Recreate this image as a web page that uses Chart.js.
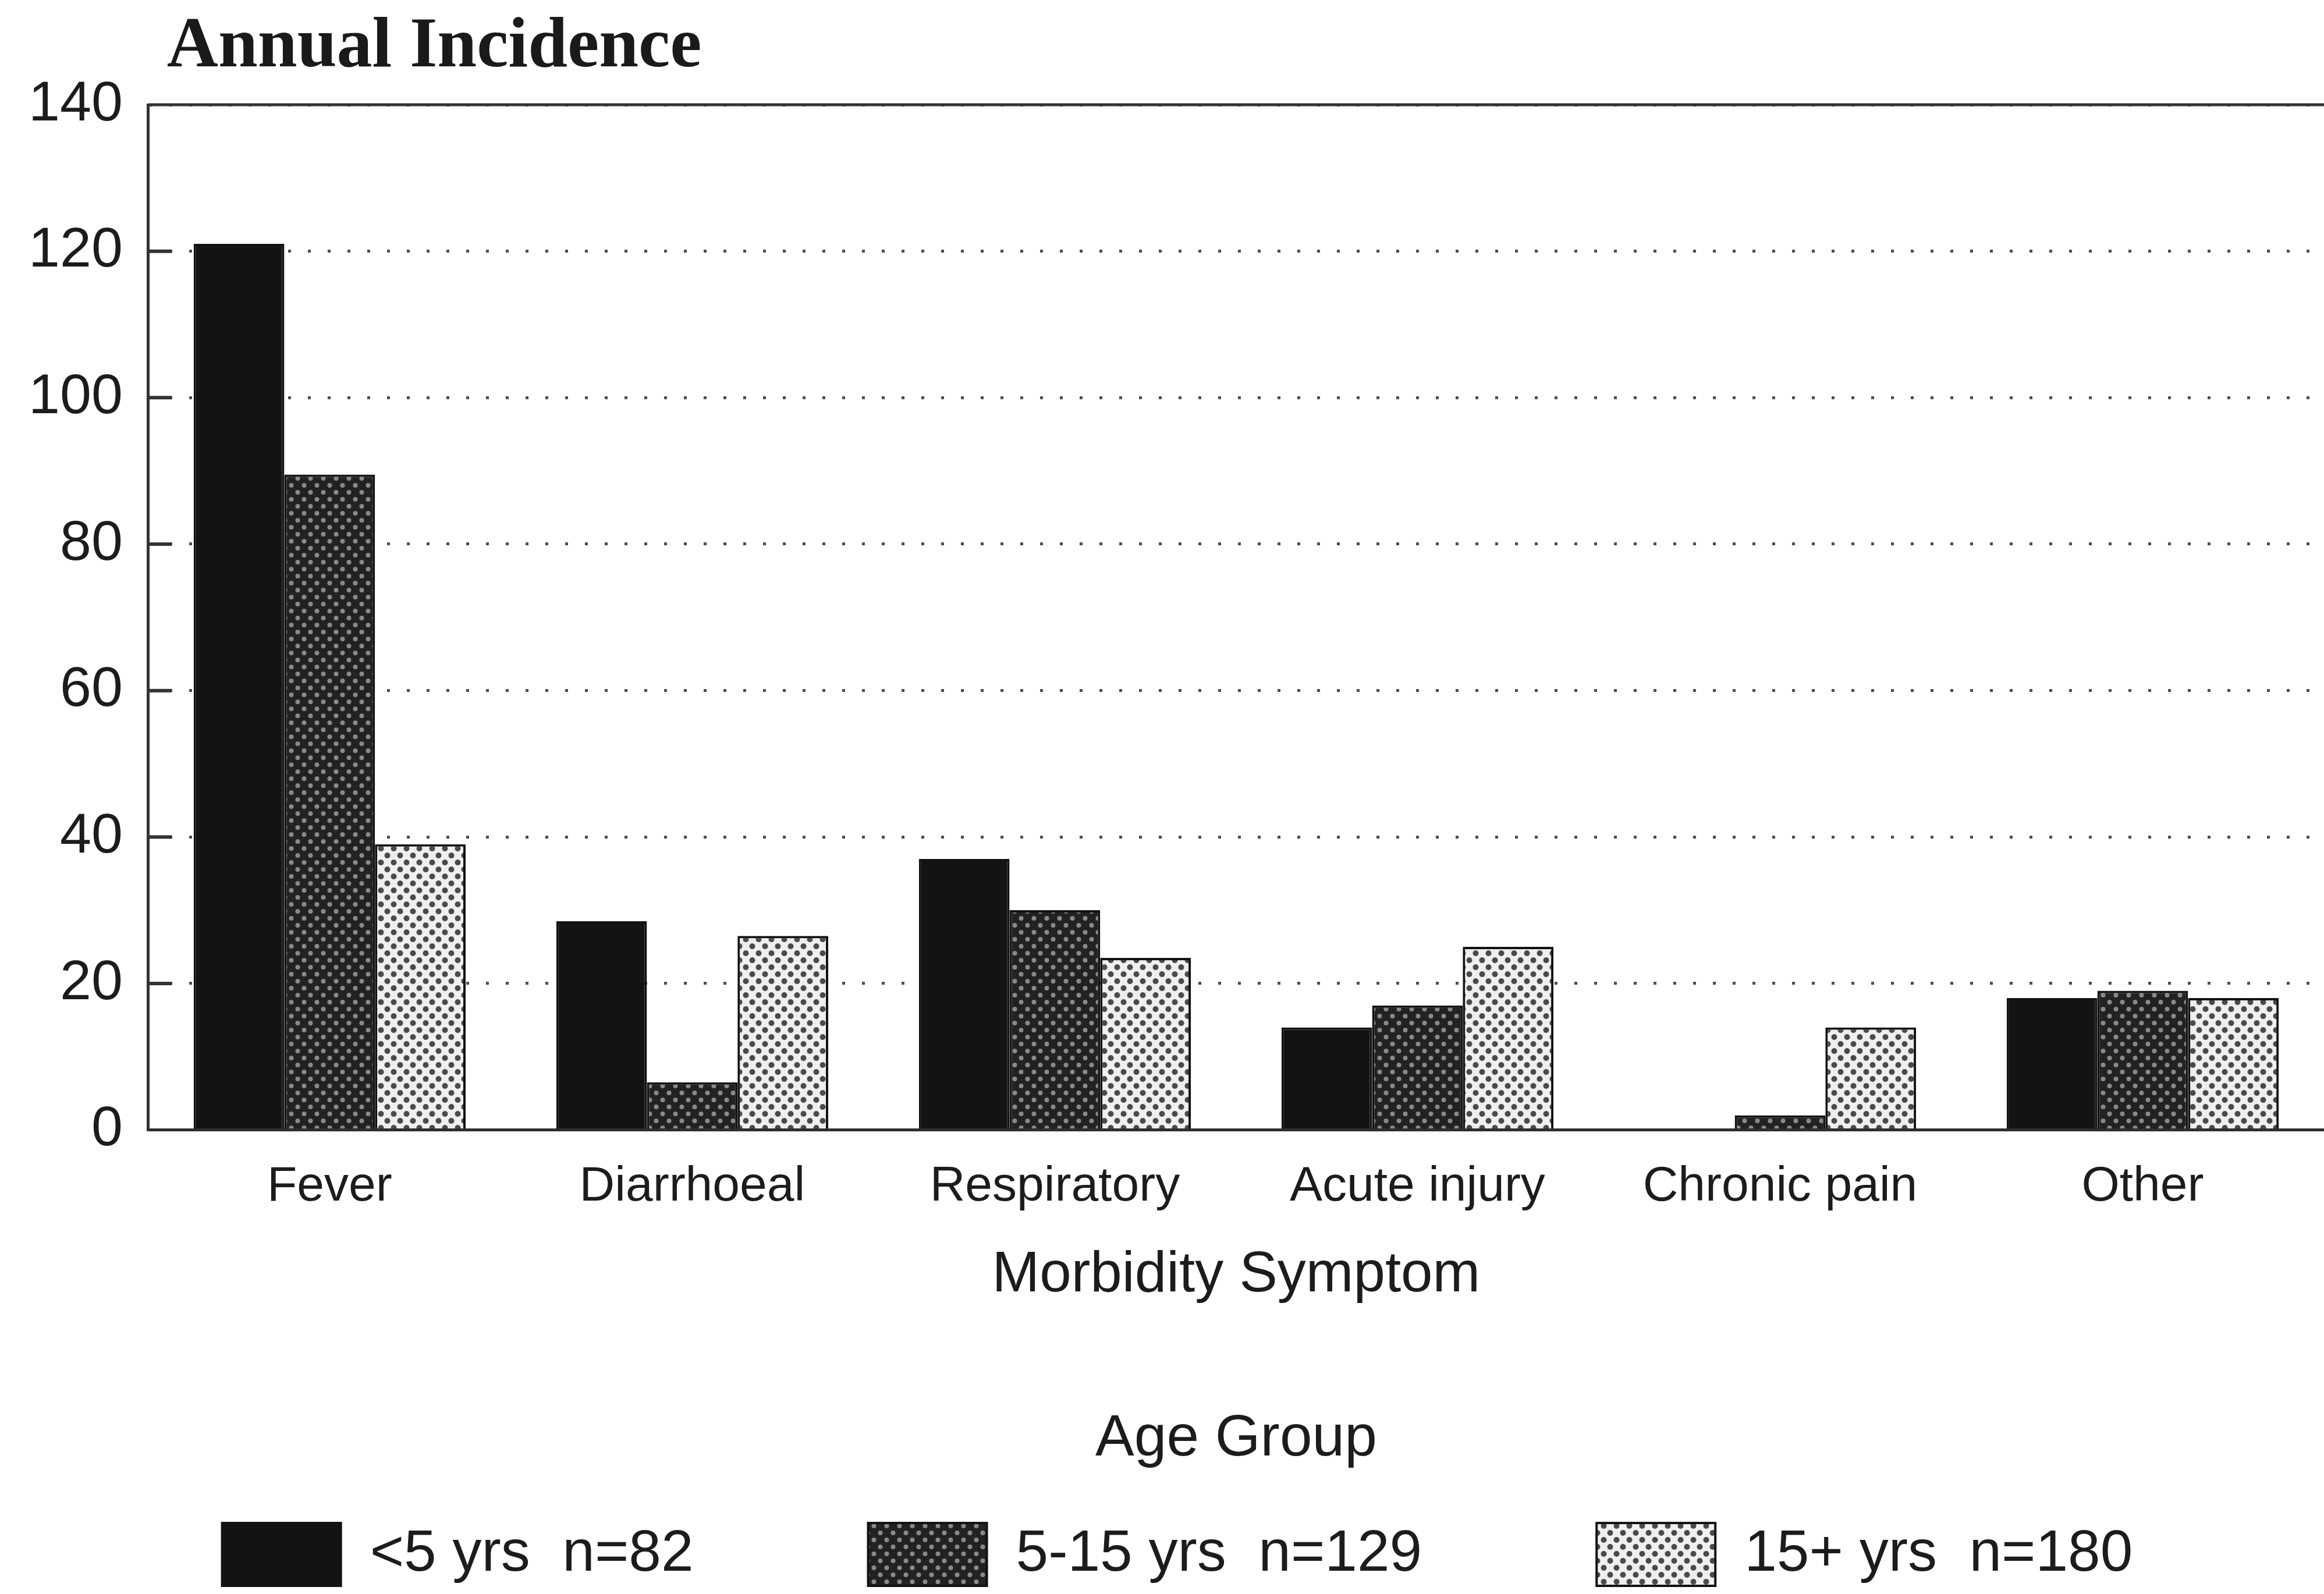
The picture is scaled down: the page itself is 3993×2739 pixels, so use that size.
<!DOCTYPE html>
<html>
<head>
<meta charset="utf-8">
<title>Annual Incidence by Morbidity Symptom</title>
<script src="https://cdn.jsdelivr.net/npm/chart.js@4/dist/chart.umd.min.js"></script>
<style>
  html, body { margin: 0; padding: 0; background: #ffffff; }
  #wrap { width: 3993px; height: 2739px; }
</style>
</head>
<body>
<div id="wrap"><canvas id="chart" width="3993" height="2739"></canvas></div>
<script>
// Morbidity categories and annual incidence per age group
const categories = ['Fever', 'Diarrhoeal', 'Respiratory', 'Acute injury', 'Chronic pain', 'Other'];
const under5 = [121, 28.5, 37, 14, 0, 18];
const age5to15 = [89.5, 6.5, 30, 17, 2, 19];
const over15 = [39, 26.5, 23.5, 25, 14, 18];
const seriesLabels = ['<5 yrs  n=82', '5-15 yrs  n=129', '15+ yrs  n=180'];
const yTicks = [0, 20, 40, 60, 80, 100, 120, 140];

const chartTitle = 'Annual Incidence';
const xTitle = 'Morbidity Symptom';
const legendTitle = 'Age Group';

const SANS = '"Liberation Sans", Arial, Helvetica, sans-serif';
const SERIF = '"Liberation Serif", "Times New Roman", serif';
const INK = '#1c1c1c';

// Dot-screen fills for the shaded bars
function dotPattern(bg, dot, r) {
  const c = document.createElement('canvas');
  c.width = 22; c.height = 24;
  const g = c.getContext('2d');
  g.fillStyle = bg;
  g.fillRect(0, 0, c.width, c.height);
  g.fillStyle = dot;
  [[5.5, 6], [16.5, 18], [-5.5, 18], [27.5, 18], [16.5, -6], [5.5, 30]].forEach(([x, y]) => {
    g.beginPath(); g.arc(x, y, r, 0, Math.PI * 2); g.fill();
  });
  return g.createPattern(c, 'repeat');
}

const ctx = document.getElementById('chart').getContext('2d');
const fillDark = '#131313';
const fillMid = dotPattern('#222222', '#8a8a8a', 4);
const fillLight = dotPattern('#efefef', '#4a4a4a', 5);

// Nudges the legend row to the right of the canvas centre
const legendShift = {
  id: 'legendShift',
  afterLayout(chart) {
    chart.legend.left += 24;
    chart.legend.right += 24;
  }
};

// Title, plot frame, inward tick marks and legend heading
const decorations = {
  id: 'decorations',
  afterDraw(chart) {
    const { ctx, chartArea } = chart;
    const y = chart.scales.y;
    ctx.save();
    ctx.setLineDash([]);
    ctx.strokeStyle = '#333333';
    ctx.lineWidth = 5;
    ctx.beginPath();
    ctx.moveTo(chartArea.left, chartArea.top);
    ctx.lineTo(chartArea.right, chartArea.top);
    ctx.stroke();
    ctx.lineWidth = 6;
    yTicks.slice(1, -1).forEach(v => {
      const py = y.getPixelForValue(v);
      ctx.beginPath();
      ctx.moveTo(chartArea.left, py);
      ctx.lineTo(chartArea.left + 40, py);
      ctx.stroke();
    });
    ctx.fillStyle = '#1a1a1a';
    ctx.font = 'bold 122px ' + SERIF;
    ctx.textAlign = 'left';
    ctx.textBaseline = 'alphabetic';
    ctx.fillText(chartTitle, chartArea.left + 32, 114);
    ctx.fillStyle = INK;
    ctx.font = '100px ' + SANS;
    ctx.textAlign = 'center';
    ctx.textBaseline = 'middle';
    ctx.fillText(legendTitle, (chartArea.left + chartArea.right) / 2, chart.legend.top + 156);
    ctx.restore();
  }
};

new Chart(ctx, {
  type: 'bar',
  data: {
    labels: categories,
    datasets: [
      { label: seriesLabels[0], data: under5, backgroundColor: fillDark },
      { label: seriesLabels[1], data: age5to15, backgroundColor: fillMid },
      { label: seriesLabels[2], data: over15, backgroundColor: fillLight }
    ]
  },
  options: {
    responsive: false,
    animation: false,
    devicePixelRatio: 1,
    layout: { padding: { top: 180, right: 0, bottom: 4, left: 5 } },
    datasets: {
      bar: {
        categoryPercentage: 0.75,
        barPercentage: 1.0,
        borderWidth: 4,
        borderColor: '#121212'
      }
    },
    plugins: {
      title: { display: false },
      tooltip: { enabled: false },
      legend: {
        position: 'bottom',
        align: 'center',
        labels: {
          color: INK,
          font: { family: SANS, size: 100 },
          boxWidth: 204,
          boxHeight: 108,
          padding: 300
        }
      }
    },
    scales: {
      x: {
        grid: { display: false, drawTicks: false },
        border: { display: true, color: '#2e2e2e', width: 5 },
        ticks: { color: INK, font: { family: SANS, size: 84 }, padding: 48, maxRotation: 0, autoSkip: false },
        title: {
          display: true,
          text: xTitle,
          color: INK,
          font: { family: SANS, size: 98 },
          padding: { top: -5, bottom: 66 }
        }
      },
      y: {
        min: 0,
        max: 140,
        afterBuildTicks(scale) { scale.ticks = yTicks.map(v => ({ value: v })); },
        grid: { color: '#4e4e4e', lineWidth: 5, drawTicks: false },
        border: { display: true, color: '#333333', width: 5, dash: [5, 29] },
        ticks: { color: INK, font: { family: SANS, size: 97 }, padding: 44 }
      }
    }
  },
  plugins: [legendShift, decorations]
});
</script>
</body>
</html>
